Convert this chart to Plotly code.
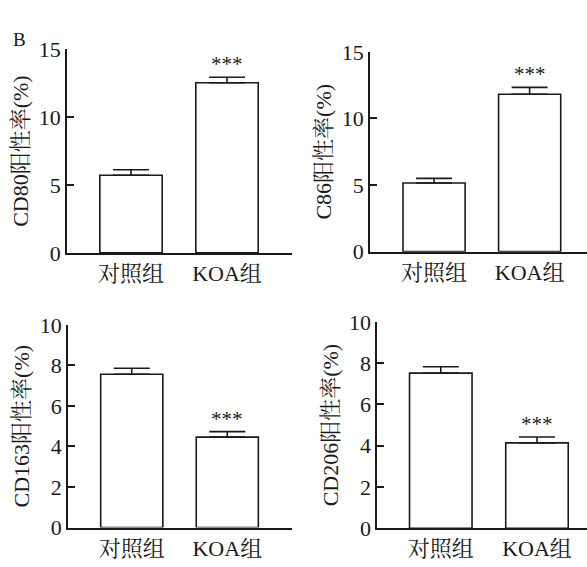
import plotly.graph_objects as go

W, H = 587, 567

categories = ["对照组", "KOA组"]
titles = ["CD80阳性率(%)", "C86阳性率(%)", "CD163阳性率(%)", "CD206阳性率(%)"]
cd80 = [5.72, 12.53]
cd80_err = [0.40, 0.41]
c86 = [5.15, 11.82]
c86_err = [0.35, 0.51]
cd163 = [7.56, 4.46]
cd163_err = [0.30, 0.27]
cd206 = [7.52, 4.14]
cd206_err = [0.31, 0.28]
yranges = [[0, 15], [0, 15], [0, 10], [0, 10]]
ytickvals = [[0, 5, 10, 15], [0, 5, 10, 15], [0, 2, 4, 6, 8, 10], [0, 2, 4, 6, 8, 10]]
sig = [[None, "***"], [None, "***"], [None, "***"], [None, "***"]]

values = [cd80, c86, cd163, cd206]
errors = [cd80_err, c86_err, cd163_err, cd206_err]

# panel geometry in pixels: (x_left, x_right, y_zero_px, y_top_px, xrange)
geom = [
    (67, 292, 252, 39, [-0.667, 1.677]),
    (370, 587, 250.7, 41.7, [-0.67, 1.60]),
    (68, 292, 539.3, 327.3, [-0.667, 1.677]),
    (377.3, 587, 540, 324.3, [-0.66, 1.52]),
]

FONT = "Liberation Serif, Times New Roman, Noto Serif CJK SC, Noto Sans CJK SC, serif"
TXT = "#1a1a1a"

fig = go.Figure()
for i in range(4):
    xs = "" if i == 0 else str(i + 1)
    fig.add_trace(go.Bar(
        x=categories, y=values[i],
        xaxis="x" + xs, yaxis="y" + xs,
        width=0.65,
        marker=dict(color="white", line=dict(color=TXT, width=1.6)),
        error_y=dict(type="data", symmetric=False, array=errors[i],
                     arrayminus=[0, 0], color=TXT, thickness=1.6, width=18),
        showlegend=False,
    ))
    xl, xr, y0, y1, xrng = geom[i]
    fig.layout["xaxis" + xs] = dict(
        domain=[xl / W, min(xr / W, 1)], range=xrng, anchor="y" + xs,
        showline=True, linecolor=TXT, linewidth=1.6, ticks="",
        tickfont=dict(family=FONT, size=22, color=TXT), showgrid=False,
        zeroline=False, fixedrange=True,
    )
    fig.layout["yaxis" + xs] = dict(
        domain=[1 - y0 / H, 1 - y1 / H], range=yranges[i], anchor="x" + xs,
        tickvals=ytickvals[i], showline=True, linecolor=TXT, linewidth=1.6,
        ticks="inside", ticklen=7, tickwidth=1.6, tickcolor=TXT,
        tickfont=dict(family=FONT, size=22, color=TXT), showgrid=False,
        zeroline=False,
        title=dict(text=titles[i], font=dict(family=FONT, size=22, color=TXT), standoff=4),
    )
    for j, s in enumerate(sig[i]):
        if s:
            fig.add_annotation(
                x=categories[j], y=values[i][j] + errors[i][j],
                xref="x" + xs, yref="y" + xs, text=s, showarrow=False,
                yanchor="bottom", yshift=-1,
                font=dict(family=FONT, size=21, color=TXT),
            )

fig.add_annotation(x=11 / W, y=1 - 16 / H, xref="paper", yref="paper",
                   text="B", showarrow=False, xanchor="left", yanchor="top",
                   font=dict(family=FONT, size=19, color=TXT))

fig.update_layout(
    width=W, height=H, margin=dict(l=0, r=0, t=0, b=0),
    paper_bgcolor="white", plot_bgcolor="white",
    bargap=0.3,
)

fig.write_html("out.html")
